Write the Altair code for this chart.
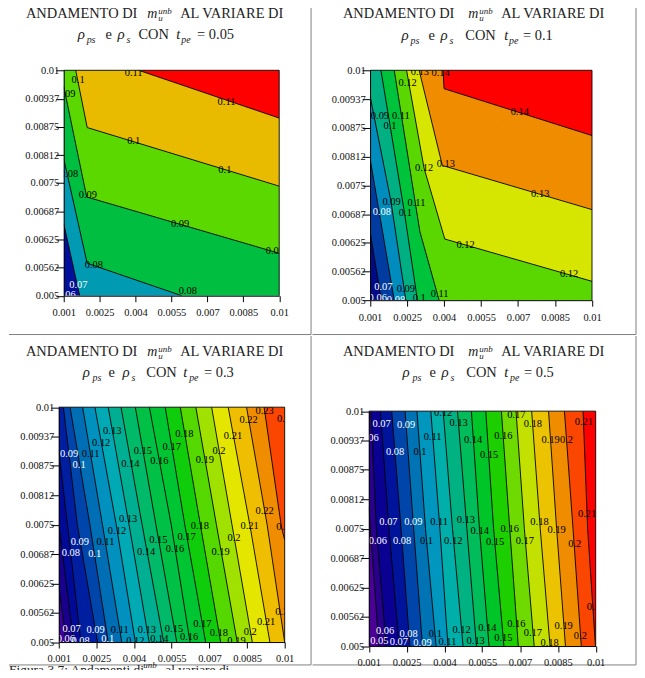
import altair as alt
import pandas as pd

XMIN, XMAX, YMIN, YMAX = 0.001, 0.01, 0.005, 0.01
X_TICKS = [0.001, 0.0025, 0.004, 0.0055, 0.007, 0.0085, 0.01]
Y_TICKS = [0.005, 0.00562, 0.00625, 0.00687, 0.0075, 0.00812, 0.00875, 0.00937, 0.01]
SERIF = "Liberation Serif"

# ---- contour lines: each runs from the left/top edge to the bottom/right edge
P1_LINES = [
    [(0.001, 0.00660), (0.001665, 0.005)],
    [(0.001, 0.00804), (0.00198, 0.00572), (0.00593, 0.005)],
    [(0.001, 0.00964), (0.00196, 0.00719), (0.01, 0.00594)],
    [(0.0015, 0.01), (0.00198, 0.00873), (0.01, 0.00743)],
    [(0.00413, 0.01), (0.01, 0.00894)],
]
P1_COLORS = ["#00109a", "#009bb2", "#00bf40", "#5ad800", "#e8bb00", "#ff0000"]
P1_LABELS = [
    ("0.11", 0.00392, 0.00993), ("0.11", 0.0078, 0.0093), ("0.1", 0.0016, 0.00978),
    ("0.09", 0.00111, 0.00948), ("0.1", 0.00392, 0.00843), ("0.1", 0.00773, 0.00778),
    ("0.08", 0.00122, 0.00769), ("0.09", 0.00201, 0.00724), ("0.09", 0.00586, 0.00658),
    ("0.09", 0.00982, 0.006), ("0.08", 0.00226, 0.00568), ("0.08", 0.00618, 0.0051),
    ("0.07", 0.00161, 0.00524), ("0.06", 0.00112, 0.00502),
]
P1_WHITE = ["0.06", "0.07"]

P2_LINES = [
    [(0.001, 0.00649), (0.00146, 0.005)],
    [(0.001, 0.00808), (0.00198, 0.005)],
    [(0.001, 0.00944), (0.00185, 0.00714), (0.00245, 0.005)],
    [(0.00144, 0.01), (0.00239, 0.00692), (0.00292, 0.005)],
    [(0.00198, 0.01), (0.00302, 0.00649), (0.0038, 0.005)],
    [(0.00248, 0.01), (0.00319, 0.00787), (0.00403, 0.00633), (0.01, 0.00541)],
    [(0.00299, 0.01), (0.00393, 0.00793), (0.01, 0.00697)],
    [(0.00396, 0.01), (0.004, 0.0096), (0.01, 0.00858)],
]
P2_COLORS = ["#000a88", "#003ca0", "#008cbc", "#00af82", "#00c33c", "#5ad700", "#d7e600", "#f08c00", "#ff0000"]
P2_LABELS = [
    ("0.14", 0.00386, 0.00994), ("0.14", 0.00707, 0.00909), ("0.13", 0.00302, 0.00996),
    ("0.12", 0.00252, 0.00973), ("0.09", 0.0014, 0.00901), ("0.11", 0.00225, 0.00901),
    ("0.1", 0.00181, 0.00878), ("0.13", 0.00407, 0.00797), ("0.12", 0.00319, 0.00787),
    ("0.13", 0.0079, 0.0073), ("0.09", 0.00187, 0.00713), ("0.11", 0.00288, 0.00712),
    ("0.08", 0.00148, 0.00691), ("0.1", 0.00243, 0.00689), ("0.12", 0.00487, 0.0062),
    ("0.12", 0.00907, 0.00557), ("0.07", 0.00154, 0.00528), ("0.09", 0.00245, 0.00525),
    ("0.11", 0.00382, 0.00514), ("0.06", 0.00131, 0.00505), ("0.08", 0.00205, 0.00501),
    ("0.1", 0.00299, 0.00505),
]
P2_WHITE = ["0.06", "0.07", "0.08"]

P3_LINES = [
    [(0.001, 0.00618), (0.0013, 0.005)],
    [(0.001, 0.00752), (0.00159, 0.005)],
    [(0.001, 0.00908), (0.00148, 0.00689), (0.00188, 0.005)],
    [(0.001185, 0.01), (0.00174, 0.0075), (0.002546, 0.005)],
    [(0.00145, 0.01), (0.00224, 0.0075), (0.00297, 0.005)],
    [(0.00195, 0.01), (0.00274, 0.0075), (0.00351, 0.005)],
    [(0.00244, 0.01), (0.00329, 0.0075), (0.00405, 0.005)],
    [(0.00297, 0.01), (0.0038, 0.0075), (0.0046, 0.005)],
    [(0.00348, 0.01), (0.00432, 0.0075), (0.00518, 0.005)],
    [(0.00405, 0.01), (0.00487, 0.0075), (0.0057, 0.005)],
    [(0.00461, 0.01), (0.00548, 0.0075), (0.00623, 0.005)],
    [(0.00524, 0.01), (0.00602, 0.0075), (0.00685, 0.005)],
    [(0.00584, 0.01), (0.00664, 0.0075), (0.00745, 0.005)],
    [(0.00646, 0.01), (0.00728, 0.0075), (0.00811, 0.005)],
    [(0.00709, 0.01), (0.0079, 0.0075), (0.00871, 0.005)],
    [(0.00775, 0.01), (0.00861, 0.0075), (0.00941, 0.005)],
    [(0.00848, 0.01), (0.0093, 0.0075), (0.01, 0.005)],
    [(0.00918, 0.01), (0.00987, 0.00745), (0.01, 0.00717)],
]
P3_COLORS = ["#3c0096", "#19008c", "#000a96", "#001ea0", "#0046aa", "#006eb4", "#0091be", "#00aab4",
             "#00af91", "#00b969", "#00c046", "#00c532", "#0fcd0a", "#55d700", "#a0e100", "#e4e600",
             "#f0be00", "#f08c00", "#fa4600"]
P3_LABELS = [
    ("0.09", 0.00141, 0.009), ("0.1", 0.00181, 0.00877), ("0.11", 0.00227, 0.009),
    ("0.12", 0.00269, 0.00924), ("0.13", 0.00313, 0.0095), ("0.14", 0.00385, 0.00879),
    ("0.15", 0.00435, 0.00907), ("0.16", 0.00501, 0.00886), ("0.17", 0.0055, 0.00915),
    ("0.18", 0.006, 0.00943), ("0.19", 0.00682, 0.00888), ("0.2", 0.00738, 0.00907),
    ("0.21", 0.00794, 0.00939), ("0.22", 0.00856, 0.00973), ("0.23", 0.0092, 0.00991),
    ("0.24", 0.01006, 0.00975),
    ("0.08", 0.00148, 0.00689), ("0.09", 0.00184, 0.00712), ("0.1", 0.00243, 0.00688),
    ("0.11", 0.00286, 0.00712), ("0.12", 0.00332, 0.00736), ("0.13", 0.00376, 0.00761),
    ("0.14", 0.00448, 0.00692), ("0.15", 0.00497, 0.00717), ("0.16", 0.00563, 0.00697),
    ("0.17", 0.00609, 0.00723), ("0.18", 0.00662, 0.00747), ("0.19", 0.00745, 0.00691),
    ("0.2", 0.00798, 0.00721), ("0.21", 0.0086, 0.00748), ("0.22", 0.0092, 0.00778),
    ("0.23", 0.01003, 0.00745),
    ("0.06", 0.00128, 0.00506), ("0.07", 0.00151, 0.00527), ("0.08", 0.00187, 0.00502),
    ("0.09", 0.00247, 0.00525), ("0.1", 0.00295, 0.00506), ("0.11", 0.00343, 0.00525),
    ("0.12", 0.00405, 0.00502), ("0.13", 0.00451, 0.00525), ("0.14", 0.00501, 0.00506),
    ("0.15", 0.00559, 0.00527), ("0.16", 0.00619, 0.00511), ("0.17", 0.00672, 0.00539),
    ("0.18", 0.00738, 0.0052), ("0.19", 0.00808, 0.00502), ("0.2", 0.00863, 0.00522),
    ("0.21", 0.00926, 0.00542), ("0.22", 0.00999, 0.00563),
]
P3_WHITE = ["0.06", "0.07", "0.08", "0.09", "0.1"]

P4_LINES = [
    [(0.001, 0.00796), (0.00122, 0.00634), (0.0014, 0.005)],
    [(0.00109, 0.01), (0.0013, 0.0075), (0.00169, 0.005)],
    [(0.00146, 0.01), (0.0018, 0.0075), (0.00221, 0.005)],
    [(0.00191, 0.01), (0.00228, 0.0075), (0.00263, 0.005)],
    [(0.00244, 0.01), (0.00278, 0.0075), (0.00313, 0.005)],
    [(0.00291, 0.01), (0.00325, 0.0075), (0.00367, 0.005)],
    [(0.00346, 0.01), (0.00382, 0.0075), (0.00414, 0.005)],
    [(0.00395, 0.01), (0.00432, 0.0075), (0.00474, 0.005)],
    [(0.00452, 0.01), (0.00489, 0.0075), (0.00527, 0.005)],
    [(0.00507, 0.01), (0.00539, 0.0075), (0.00577, 0.005)],
    [(0.00564, 0.01), (0.00595, 0.0075), (0.00636, 0.005)],
    [(0.00626, 0.01), (0.00659, 0.0075), (0.00693, 0.005)],
    [(0.00684, 0.01), (0.00717, 0.0075), (0.00756, 0.005)],
    [(0.00746, 0.01), (0.0078, 0.0075), (0.00819, 0.005)],
    [(0.00813, 0.01), (0.00845, 0.0075), (0.0088, 0.005)],
    [(0.00876, 0.01), (0.0091, 0.0075), (0.00943, 0.005)],
    [(0.0095, 0.01), (0.00968, 0.0075), (0.00999, 0.005)],
]
P4_COLORS = ["#4b0096", "#28008c", "#0a0091", "#00149b", "#0046aa", "#0073b4", "#0096be", "#00afaa",
             "#00b282", "#00bc5a", "#00c528", "#1ecf00", "#6eda00", "#c3e100", "#ebc300", "#f08c00",
             "#fa4600", "#ff0000"]
P4_LABELS = [
    ("0.06", 0.00103, 0.00943), ("0.07", 0.00151, 0.00973), ("0.09", 0.00248, 0.00971),
    ("0.08", 0.00204, 0.00914), ("0.1", 0.00303, 0.00914), ("0.11", 0.00353, 0.00946),
    ("0.12", 0.00395, 0.00996), ("0.13", 0.00456, 0.00975), ("0.14", 0.00514, 0.00939),
    ("0.15", 0.00577, 0.00907), ("0.16", 0.00634, 0.00947), ("0.17", 0.00685, 0.00991),
    ("0.18", 0.00751, 0.00973), ("0.19", 0.00821, 0.00939), ("0.2", 0.00884, 0.00938),
    ("0.21", 0.00953, 0.00977),
    ("0.06", 0.00136, 0.00724), ("0.07", 0.00178, 0.00764), ("0.08", 0.00232, 0.00724),
    ("0.09", 0.00277, 0.00764), ("0.1", 0.00329, 0.00724), ("0.11", 0.00379, 0.00764),
    ("0.12", 0.00435, 0.00724), ("0.13", 0.00485, 0.00769), ("0.14", 0.0054, 0.00745),
    ("0.15", 0.00601, 0.00721), ("0.16", 0.00659, 0.0075), ("0.17", 0.00719, 0.00724),
    ("0.18", 0.00777, 0.00764), ("0.19", 0.00845, 0.00747), ("0.2", 0.00917, 0.00717),
    ("0.21", 0.00966, 0.0078),
    ("0.05", 0.00142, 0.0051), ("0.06", 0.00165, 0.00533), ("0.07", 0.00219, 0.00508),
    ("0.08", 0.00258, 0.00525), ("0.09", 0.00313, 0.00506), ("0.1", 0.00364, 0.00525),
    ("0.11", 0.00412, 0.00508), ("0.12", 0.00468, 0.00535), ("0.13", 0.00524, 0.0051),
    ("0.14", 0.0057, 0.00539), ("0.15", 0.00634, 0.00517), ("0.16", 0.00685, 0.00547),
    ("0.17", 0.00751, 0.00528), ("0.18", 0.00817, 0.00506), ("0.19", 0.00873, 0.00542),
    ("0.2", 0.00939, 0.00522), ("0.21", 0.01001, 0.00584),
]
P4_WHITE = ["0.05", "0.06", "0.07", "0.08", "0.09"]

TITLE_VALUES = ["0.05", "0.1", "0.3", "0.5"]


def closed(line):
    pts = list(line)
    sx, sy = line[0]
    ex, ey = line[-1]
    if ey == YMIN and ex < XMAX:
        pts.append((XMAX, YMIN))
    pts.append((XMAX, YMAX))
    if sx == XMIN and sy < YMAX:
        pts.append((XMIN, YMAX))
    return pts


ONE = pd.DataFrame({"a": [0]})


def panel(lines, colors, labels, white, plot, cell, frags):
    ox, oy, w, h = plot
    cl, ct, cr, cb = cell
    lx = lambda px: px - cl
    ly = lambda py: py - ct
    rows = []
    base = [(XMIN, YMIN), (XMAX, YMIN), (XMAX, YMAX), (XMIN, YMAX)]
    for band, pts in enumerate([base] + [closed(l) for l in lines]):
        for j, (x, y) in enumerate(pts):
            rows.append({"band": band, "col": colors[band], "j": j, "x": x, "y": y})
    poly_df = pd.DataFrame(rows)
    line_df = pd.DataFrame(
        [{"n": n, "j": j, "x": x, "y": y} for n, l in enumerate(lines) for j, (x, y) in enumerate(l)]
    )
    lab_df = pd.DataFrame(labels, columns=["t", "x", "y"])
    lab_df["c"] = ["#ffffff" if t in white else "#000000" for t in lab_df["t"]]

    xs = alt.Scale(domain=[XMIN, XMAX], nice=False, zero=False, range=[lx(ox), lx(ox + w)])
    ys = alt.Scale(domain=[YMIN, YMAX], nice=False, zero=False, range=[ly(oy + h), ly(oy)])
    xa = alt.X("x:Q", scale=xs, title=None, axis=alt.Axis(
        values=X_TICKS, format=".4~f", grid=False, tickSize=6, tickColor="#000", domainColor="#000",
        labelFont=SERIF, labelFontSize=10.5, labelColor="#111", labelPadding=6, labelFlush=False,
        labelOverlap=False, zindex=1, offset=-(cb - (oy + h))))
    ya = alt.Y("y:Q", scale=ys, title=None, axis=alt.Axis(
        values=Y_TICKS, format=".5~f", grid=False, tickSize=8, tickColor="#000", domainColor="#000",
        labelFont=SERIF, labelFontSize=10.5, labelColor="#111", labelPadding=-3, labelFlush=False,
        labelOverlap=False, zindex=1, offset=-(ox - cl)))

    polys = alt.Chart(poly_df).mark_line(strokeWidth=0).encode(
        x=xa, y=ya, order="j:Q", detail="band:N",
        fill=alt.Fill("col:N", legend=None, scale=None),
    )
    conts = alt.Chart(line_df).mark_line(color="#000", strokeWidth=0.9).encode(
        x=xa, y=ya, order="j:Q", detail="n:N")
    texts = alt.Chart(lab_df).mark_text(font=SERIF, fontSize=10.5).encode(
        x=xa, y=ya, text="t:N", color=alt.Color("c:N", legend=None, scale=None))

    layers = [polys, conts, texts]

    def rect(x1, y1, x2, y2, **kw):
        return alt.Chart(ONE).mark_rect(**kw).encode(
            x=alt.value(lx(x1)), x2=alt.value(lx(x2)), y=alt.value(ly(y1)), y2=alt.value(ly(y2)))

    def rule(x1, y1, x2, y2, color, sw):
        return alt.Chart(ONE).mark_rule(color=color, strokeWidth=sw).encode(
            x=alt.value(lx(x1)), x2=alt.value(lx(x2)), y=alt.value(ly(y1)), y2=alt.value(ly(y2)))

    # white strips round the plot cut the contour labels at the plot edge
    m = 14
    layers += [
        rect(ox - m, oy - m, ox, oy + h + m, color="white"),
        rect(ox + w, oy - m, ox + w + m, oy + h + m, color="white"),
        rect(ox - m, oy - m, ox + w + m, oy, color="white"),
        rect(ox - m, oy + h, ox + w + m, oy + h + m, color="white"),
        rule(ox, oy, ox + w, oy, "#000", 0.9),
        rule(ox + w, oy, ox + w, oy + h, "#000", 0.9),
        rect(cl, ct, cr, cb, opacity=0),
        rule(cr, ct, cr, cb, "#808080", 1),
        rule(cl, cb, cr, cb, "#808080", 1),
    ]
    for (s, px, py, size, style) in frags:
        layers.append(alt.Chart(pd.DataFrame({"s": [s]})).mark_text(
            font=SERIF, fontSize=size, fontStyle=style, align="left", baseline="alphabetic", color="#222"
        ).encode(x=alt.value(lx(px)), y=alt.value(ly(py)), text="s:N"))
    return alt.layer(*layers).properties(width=cr - cl, height=cb - ct)


def title_frags(a, m, al, rho1, ps, e, rho2, s, con, t, pe, eq, y1, y2, val):
    return [
        ("ANDAMENTO DI", a, y1, 14.5, "normal"),
        ("m", m, y1, 14, "italic"),
        ("u", m + 11, y1 + 3, 9, "italic"),
        ("unb", m + 11, y1 - 4, 9, "italic"),
        ("AL VARIARE DI", al, y1, 14.5, "normal"),
        ("\u03c1", rho1, y2, 15, "italic"),
        ("ps", ps, y2 + 4, 10, "italic"),
        ("e", e, y2, 14.5, "normal"),
        ("\u03c1", rho2, y2, 15, "italic"),
        ("s", s, y2 + 4, 10, "italic"),
        ("CON", con, y2, 14.5, "normal"),
        ("t", t, y2, 14.5, "italic"),
        ("pe", pe, y2 + 4, 10, "italic"),
        ("= " + val, eq, y2, 14.5, "normal"),
    ]


CAPTION = [
    ("Figura 3.7: Andamenti di", 8, 676, 13.5, "normal"),
    ("unb", 143, 670.5, 9, "italic"),
    ("al variare di", 165, 676, 13.5, "normal"),
]

p1 = panel(P1_LINES, P1_COLORS, P1_LABELS, P1_WHITE, (63, 71, 216.5, 226.5), (8, 8, 311.5, 336.5),
           title_frags(25, 147, 180, 77, 86, 105, 117, 126, 138, 176, 181, 197, 18, 40, TITLE_VALUES[0]))
p2 = panel(P2_LINES, P2_COLORS, P2_LABELS, P2_WHITE, (369.3, 71, 223, 231), (311.5, 8, 636.5, 336.5),
           title_frags(342, 468, 501, 401, 410, 428, 440, 449, 465, 504, 509, 523, 18, 41, TITLE_VALUES[1]))
p3 = panel(P3_LINES, P3_COLORS, P3_LABELS, P3_WHITE, (58, 408, 227, 236), (8, 336.5, 311.5, 667),
           title_frags(25, 147, 180, 82, 92, 108, 122, 131, 146, 183, 189, 204, 357, 378, TITLE_VALUES[2])
           + CAPTION)
p4 = panel(P4_LINES, P4_COLORS, P4_LABELS, P4_WHITE, (368, 412, 228, 236), (311.5, 336.5, 636.5, 667),
           title_frags(342, 468, 501, 402, 412, 429, 441, 450, 466, 504, 510, 524, 357, 378, TITLE_VALUES[3]))

chart = alt.concat(p1, p2, p3, p4, columns=2, spacing=0).properties(
    padding={"left": 0, "top": -4, "right": 0, "bottom": -8}, background="white"
).configure_view(stroke=None)

chart.save("out.html", embed_options={"renderer": "svg", "actions": False})
